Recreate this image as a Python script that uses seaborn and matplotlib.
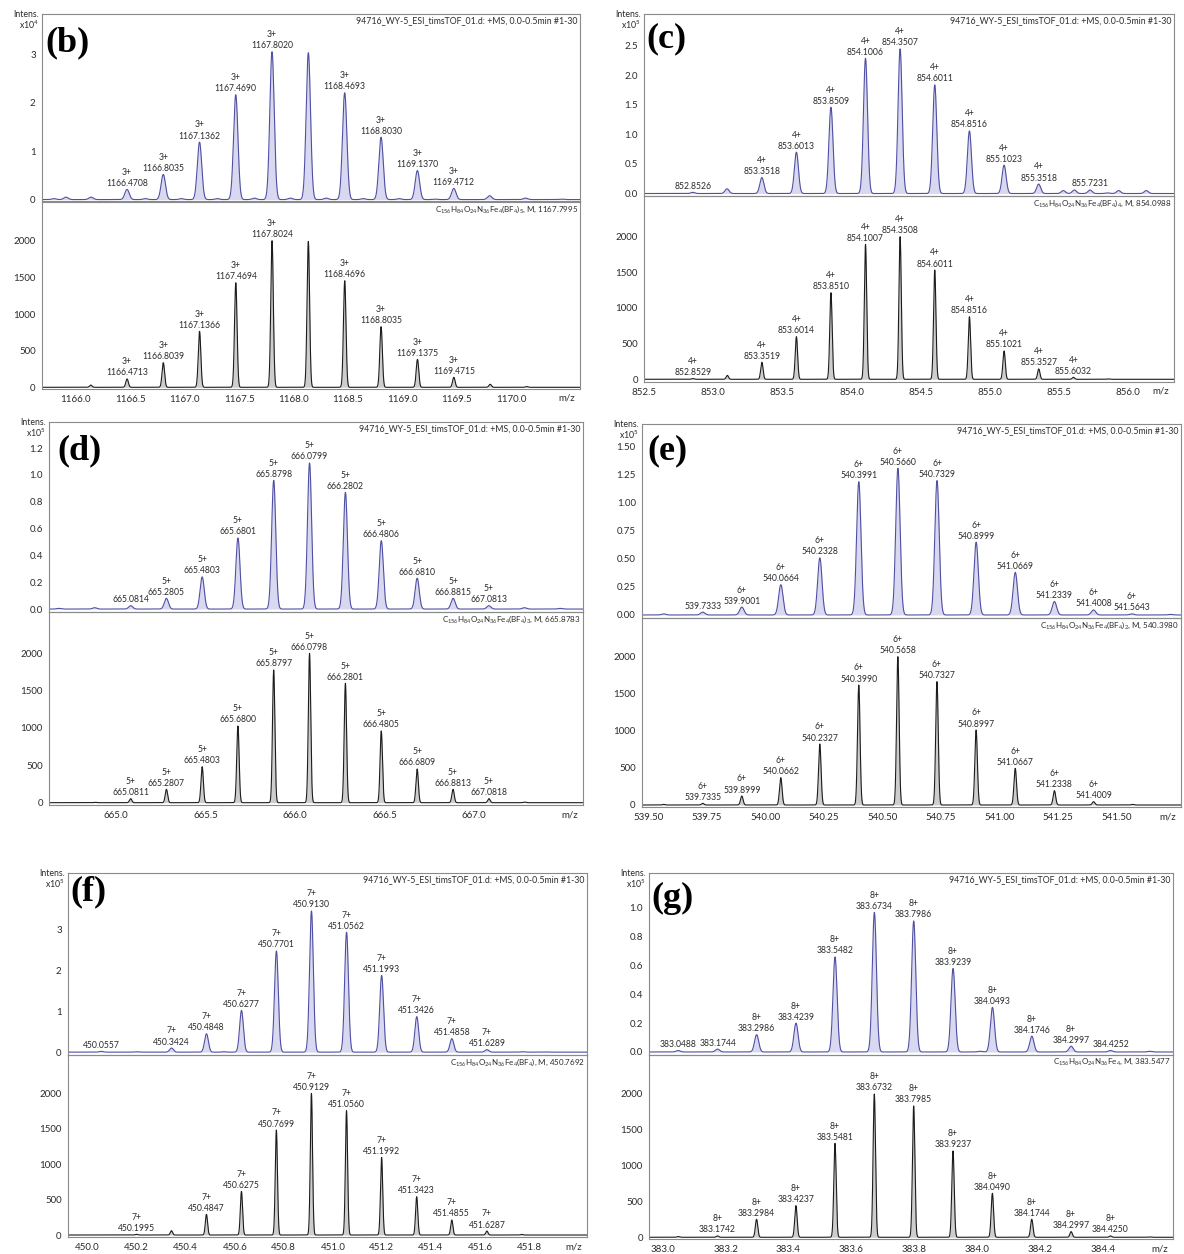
import numpy as np
import matplotlib
matplotlib.use("Agg")
import matplotlib.pyplot as plt
import seaborn as sns
from matplotlib.ticker import FixedLocator, FormatStrFormatter, AutoMinorLocator

# ---------------------------------------------------------------- data
scan_title = "94716_WY-5_ESI_timsTOF_01.d: +MS, 0.0-0.5min #1-30"

# (b) 3+ : measured (x10^4) and simulated isotope pattern
b_exp_mz = [1165.80, 1165.91, 1166.14, 1166.4708, 1166.64, 1166.8035, 1166.97, 1167.1362, 1167.30,
            1167.4690, 1167.64, 1167.8020, 1167.97, 1168.1355, 1168.30, 1168.4693, 1168.64,
            1168.8030, 1168.97, 1169.1370, 1169.30, 1169.4712, 1169.80, 1170.13, 1170.46]
b_exp_int = [0.02, 0.05, 0.05, 0.21, 0.02, 0.52, 0.02, 1.19, 0.02, 2.17, 0.03, 3.06, 0.03, 3.04,
             0.03, 2.21, 0.02, 1.29, 0.02, 0.60, 0.01, 0.23, 0.08, 0.03, 0.01]
b_exp_charge = [None, None, None, "3+", None, "3+", None, "3+", None, "3+", None, "3+", None, None,
                None, "3+", None, "3+", None, "3+", None, "3+", None, None, None]
b_sim_mz = [1166.1380, 1166.4713, 1166.8039, 1167.1366, 1167.4694, 1167.8024, 1168.1354, 1168.4696,
            1168.8035, 1169.1375, 1169.4715, 1169.8055, 1170.1395]
b_sim_int = [30, 114, 336, 764, 1427, 2000, 1990, 1454, 827, 382, 136, 41, 10]
b_sim_charge = [None, "3+", "3+", "3+", "3+", "3+", None, "3+", "3+", "3+", "3+", None, None]
b_formula = r"C$_{156}$H$_{84}$O$_{24}$N$_{36}$Fe$_{4}$(BF$_{4}$)$_{5}$, M, 1167.7995"

# (c) 4+
c_exp_mz = [852.8526, 853.10, 853.3518, 853.6013, 853.8509, 854.1006, 854.3507, 854.6011, 854.8516,
            855.1023, 855.3518, 855.53, 855.61, 855.7231, 855.85, 855.93, 856.13]
c_exp_int = [0.02, 0.08, 0.27, 0.70, 1.46, 2.29, 2.45, 1.84, 1.06, 0.48, 0.16, 0.05, 0.06, 0.06,
             0.01, 0.05, 0.05]
c_exp_charge = ["", None, "4+", "4+", "4+", "4+", "4+", "4+", "4+", "4+", "4+", None, None, "",
                None, None, None]
c_sim_mz = [852.8529, 853.1024, 853.3519, 853.6014, 853.8510, 854.1007, 854.3508, 854.6011, 854.8516,
            855.1021, 855.3527, 855.6032, 855.8537]
c_sim_int = [10, 55, 238, 598, 1215, 1893, 2000, 1533, 878, 397, 145, 28, 5]
c_sim_charge = ["4+", None, "4+", "4+", "4+", "4+", "4+", "4+", "4+", "4+", "4+", "4+", None]
c_formula = r"C$_{156}$H$_{84}$O$_{24}$N$_{36}$Fe$_{4}$(BF$_{4}$)$_{4}$, M, 854.0988"

# (d) 5+
d_exp_mz = [664.68, 664.88, 665.0814, 665.2805, 665.4803, 665.6801, 665.8798, 666.0799, 666.2802,
            666.4806, 666.6810, 666.8815, 667.0813, 667.28, 667.48]
d_exp_int = [0.005, 0.01, 0.025, 0.08, 0.24, 0.53, 0.96, 1.09, 0.87, 0.51, 0.23, 0.08, 0.025, 0.01, 0.005]
d_exp_charge = [None, None, "", "5+", "5+", "5+", "5+", "5+", "5+", "5+", "5+", "5+", "5+", None, None]
d_sim_mz = [664.8815, 665.0811, 665.2807, 665.4803, 665.6800, 665.8797, 666.0798, 666.2801, 666.4805,
            666.6809, 666.8813, 667.0818, 667.2822]
d_sim_int = [5, 54, 179, 482, 1027, 1777, 2000, 1598, 960, 451, 179, 54, 8]
d_sim_charge = [None, "5+", "5+", "5+", "5+", "5+", "5+", "5+", "5+", "5+", "5+", "5+", None]
d_formula = r"C$_{156}$H$_{84}$O$_{24}$N$_{36}$Fe$_{4}$(BF$_{4}$)$_{3}$, M, 665.8783"

# (e) 6+
e_exp_mz = [539.5665, 539.7333, 539.9001, 540.0664, 540.2328, 540.3991, 540.5660, 540.7329, 540.8999,
            541.0669, 541.2339, 541.4008, 541.5643, 541.73]
e_exp_int = [0.01, 0.025, 0.07, 0.27, 0.51, 1.19, 1.31, 1.20, 0.65, 0.38, 0.12, 0.045, 0.01, 0.005]
e_exp_charge = [None, "", "6+", "6+", "6+", "6+", "6+", "6+", "6+", "6+", "6+", "6+", "6+", None]
e_sim_mz = [539.5667, 539.7335, 539.8999, 540.0662, 540.2327, 540.3990, 540.5658, 540.7327, 540.8997,
            541.0667, 541.2338, 541.4009, 541.5679]
e_sim_int = [8, 22, 121, 369, 822, 1618, 2000, 1663, 1011, 494, 193, 45, 8]
e_sim_charge = [None, "6+", "6+", "6+", "6+", "6+", "6+", "6+", "6+", "6+", "6+", "6+", None]
e_formula = r"C$_{156}$H$_{84}$O$_{24}$N$_{36}$Fe$_{4}$(BF$_{4}$)$_{2}$, M, 540.3980"

# (f) 7+
f_exp_mz = [450.0557, 450.1990, 450.3424, 450.4848, 450.5560, 450.6277, 450.7701, 450.9130, 451.0562,
            451.1993, 451.3426, 451.4858, 451.6289, 451.7720, 451.87]
f_exp_int = [0.02, 0.01, 0.10, 0.45, 0.01, 1.02, 2.48, 3.46, 2.94, 1.88, 0.87, 0.33, 0.06, 0.01, 0.005]
f_exp_charge = ["", None, "7+", "7+", None, "7+", "7+", "7+", "7+", "7+", "7+", "7+", "7+", None, None]
f_sim_mz = [450.1995, 450.3420, 450.4847, 450.6275, 450.7699, 450.9129, 451.0560, 451.1992, 451.3423,
            451.4855, 451.6287, 451.7718]
f_sim_int = [10, 61, 292, 616, 1482, 2000, 1755, 1096, 541, 212, 56, 8]
f_sim_charge = ["7+", None, "7+", "7+", "7+", "7+", "7+", "7+", "7+", "7+", "7+", None]
f_formula = r"C$_{156}$H$_{84}$O$_{24}$N$_{36}$Fe$_{4}$(BF$_{4}$), M, 450.7692"

# (g) 8+
g_exp_mz = [383.0488, 383.1744, 383.2986, 383.4239, 383.5482, 383.6734, 383.7986, 383.9239, 384.0100,
            384.0493, 384.1746, 384.2997, 384.4252, 384.55]
g_exp_int = [0.01, 0.02, 0.12, 0.20, 0.66, 0.97, 0.91, 0.58, 0.005, 0.31, 0.11, 0.04, 0.01, 0.005]
g_exp_charge = ["", "", "8+", "8+", "8+", "8+", "8+", "8+", None, "8+", "8+", "8+", "", None]
g_sim_mz = [383.0490, 383.1742, 383.2984, 383.4237, 383.5481, 383.6732, 383.7985, 383.9237, 384.0490,
            384.1744, 384.2997, 384.4250, 384.5500]
g_sim_int = [10, 19, 251, 442, 1312, 2000, 1833, 1205, 614, 251, 79, 19, 5]
g_sim_charge = [None, "8+", "8+", "8+", "8+", "8+", "8+", "8+", "8+", "8+", "8+", "8+", None]
g_formula = r"C$_{156}$H$_{84}$O$_{24}$N$_{36}$Fe$_{4}$, M, 383.5477"

# ---------------------------------------------------------------- style
sns.set_theme(style="white")
plt.rcParams["font.family"] = ["Lato", "DejaVu Sans"]
plt.rcParams["mathtext.fontset"] = "custom"
plt.rcParams["mathtext.rm"] = "Lato"
plt.rcParams["mathtext.default"] = "regular"

TEXT = "#2b2b2b"
SPINE = "#8a8a8a"
EXP_LINE, EXP_FILL = "#4f4fa3", "#d8d8f0"
SIM_LINE, SIM_FILL = "#1c1c1c", "#cdcdcd"
RES_EXP, RES_SIM = 58000.0, 100000.0     # peak width = m/z / resolution

W_PX, H_PX, DPI = 1184, 1254, 100
PT = 72.0 / DPI                           # points per pixel


def rect(l, r, t, b):
    return [l / W_PX, 1 - b / H_PX, (r - l) / W_PX, (b - t) / H_PX]


def profile(grid, mz, inten, res):
    mz = np.asarray(mz, float)[:, None]
    h = np.asarray(inten, float)[:, None]
    sig = mz / res
    return (h * np.exp(-0.5 * ((grid[None, :] - mz) / sig) ** 2)).sum(axis=0)


def trace(ax, grid, y, line, fill):
    ax.fill_between(grid, 0, y, color=fill, lw=0)
    sns.lineplot(x=grid, y=y, ax=ax, color=line, lw=0.8, estimator=None,
                 errorbar=None, sort=False)


def peak_labels(ax, mz, inten, charges):
    for m, h, ch in zip(mz, inten, charges):
        if ch is None:
            continue
        txt = f"{m:.4f}" if ch == "" else f"{ch}\n{m:.4f}"
        ax.annotate(txt, (m, h), xytext=(0, 1.5 * PT), textcoords="offset points",
                    ha="center", va="bottom", fontsize=6.2, color=TEXT, linespacing=1.3)


def style_axis(ax):
    for s in ax.spines.values():
        s.set_color(SPINE)
        s.set_linewidth(0.8)
    ax.set_facecolor("none")
    ax.tick_params(which="major", direction="out", length=3, width=0.6, color="#555555",
                   labelsize=7, labelcolor=TEXT, pad=1.5)
    ax.tick_params(which="minor", direction="out", length=1.6, width=0.5, color="#777777")
    ax.set_xlabel("")
    ax.set_ylabel("")


panels = [
    dict(tag="(b)", power=4, title=scan_title, formula=b_formula,
         exp=(b_exp_mz, b_exp_int, b_exp_charge), sim=(b_sim_mz, b_sim_int, b_sim_charge),
         box=(42, 580, 14, 201.5, 389), xlim=(1165.69, 1170.63), xt=(1166.0, 1170.0, 0.5), xfmt="%.1f",
         ylim=(-0.04, 3.84), yt=(0, 3, 1), yfmt="%d", slim=(-23, 2535), tagpos=(3, 12)),
    dict(tag="(c)", power=5, title=scan_title, formula=c_formula,
         exp=(c_exp_mz, c_exp_int, c_exp_charge), sim=(c_sim_mz, c_sim_int, c_sim_charge),
         box=(644, 1174, 14, 196, 382), xlim=(852.5, 856.33), xt=(852.5, 856.0, 0.5), xfmt="%.1f",
         ylim=(-0.042, 3.04), yt=(0, 2.5, 0.5), yfmt="%.1f", slim=(-38, 2571), tagpos=(2, 8)),
    dict(tag="(d)", power=5, title=scan_title, formula=d_formula,
         exp=(d_exp_mz, d_exp_int, d_exp_charge), sim=(d_sim_mz, d_sim_int, d_sim_charge),
         box=(49, 583, 422, 612, 805), xlim=(664.625, 667.607), xt=(665.0, 667.0, 0.5), xfmt="%.1f",
         ylim=(-0.022, 1.395), yt=(0, 1.2, 0.2), yfmt="%.1f", slim=(-31, 2553), tagpos=(8, 12)),
    dict(tag="(e)", power=5, title=scan_title, formula=e_formula,
         exp=(e_exp_mz, e_exp_int, e_exp_charge), sim=(e_sim_mz, e_sim_int, e_sim_charge),
         box=(642, 1181, 424, 618, 807), xlim=(539.474, 541.774), xt=(539.5, 541.5, 0.25), xfmt="%.2f",
         ylim=(-0.027, 1.705), yt=(0, 1.5, 0.25), yfmt="%.2f", slim=(-27, 2522), tagpos=(5, 10)),
    dict(tag="(f)", power=5, title=scan_title, formula=f_formula,
         exp=(f_exp_mz, f_exp_int, f_exp_charge), sim=(f_sim_mz, f_sim_int, f_sim_charge),
         box=(68, 587, 873, 1055, 1237), xlim=(449.92, 452.037), xt=(450.0, 451.8, 0.2), xfmt="%.1f",
         ylim=(-0.07, 4.39), yt=(0, 3, 1), yfmt="%d", slim=(-28, 2541), tagpos=(2, 2)),
    dict(tag="(g)", power=5, title=scan_title, formula=g_formula,
         exp=(g_exp_mz, g_exp_int, g_exp_charge), sim=(g_sim_mz, g_sim_int, g_sim_charge),
         box=(649, 1173, 873, 1055, 1239), xlim=(382.956, 384.624), xt=(383.0, 384.4, 0.2), xfmt="%.1f",
         ylim=(-0.021, 1.243), yt=(0, 1.0, 0.2), yfmt="%.1f", slim=(-24, 2544), tagpos=(2, 9)),
]

fig = plt.figure(figsize=(W_PX / DPI, H_PX / DPI), dpi=DPI)

for p in panels:
    l, r, t, m, b = p["box"]
    ax_e = fig.add_axes(rect(l, r, t, m))
    ax_s = fig.add_axes(rect(l, r, m, b))
    grid = np.linspace(p["xlim"][0], p["xlim"][1], 9000)

    emz, eint, ech = p["exp"]
    smz, sint, sch = p["sim"]
    trace(ax_e, grid, profile(grid, emz, eint, RES_EXP), EXP_LINE, EXP_FILL)
    trace(ax_s, grid, profile(grid, smz, sint, RES_SIM), SIM_LINE, SIM_FILL)
    peak_labels(ax_e, emz, eint, ech)
    peak_labels(ax_s, smz, sint, sch)

    x0, x1, dx = p["xt"]
    xticks = np.round(np.arange(x0, x1 + dx / 2, dx), 4)
    y0, y1, dy = p["yt"]
    yticks = np.round(np.arange(y0, y1 + dy / 2, dy), 4)

    for ax in (ax_e, ax_s):
        style_axis(ax)
        ax.set_xlim(*p["xlim"])
        ax.xaxis.set_major_locator(FixedLocator(xticks))
        ax.xaxis.set_minor_locator(AutoMinorLocator(5))
        ax.xaxis.set_major_formatter(FormatStrFormatter(p["xfmt"]))
        ax.yaxis.set_minor_locator(AutoMinorLocator(5))

    ax_e.set_ylim(*p["ylim"])
    ax_e.yaxis.set_major_locator(FixedLocator(yticks))
    ax_e.yaxis.set_major_formatter(FormatStrFormatter(p["yfmt"]))
    ax_e.tick_params(axis="x", which="both", labelbottom=False, length=2)

    ax_s.set_ylim(*p["slim"])
    ax_s.yaxis.set_major_locator(FixedLocator([0, 500, 1000, 1500, 2000]))
    ax_s.yaxis.set_major_formatter(FormatStrFormatter("%d"))

    # headers
    ax_e.text(0.996, 0.988, p["title"], transform=ax_e.transAxes, ha="right", va="top",
              fontsize=6.3, color=TEXT)
    ax_s.text(0.996, 0.99, p["formula"], transform=ax_s.transAxes, ha="right", va="top",
              fontsize=5.8, color=TEXT)
    ax_e.annotate("Intens.", (0, 1), xycoords="axes fraction",
                  xytext=(-3 * PT, 4 * PT), textcoords="offset points", ha="right", va="top",
                  fontsize=6.3, color=TEXT)
    ax_e.annotate("x10$^{%d}$" % p["power"], (0, 1), xycoords="axes fraction",
                  xytext=(-3 * PT, -5 * PT), textcoords="offset points", ha="right", va="top",
                  fontsize=6.3, color=TEXT)
    ax_s.annotate("m/z", (1, 0), xycoords="axes fraction", xytext=(-5 * PT, -5 * PT),
                  textcoords="offset points", ha="right", va="top", fontsize=7, color=TEXT)
    tx, ty = p["tagpos"]
    ax_e.annotate(p["tag"], (0, 1), xycoords="axes fraction", xytext=(tx * PT, -ty * PT),
                  textcoords="offset points", ha="left", va="top", fontsize=26,
                  fontweight="bold", family=["Liberation Serif", "DejaVu Serif"], color="black")

fig.savefig("out.png", dpi=DPI, facecolor="white")
